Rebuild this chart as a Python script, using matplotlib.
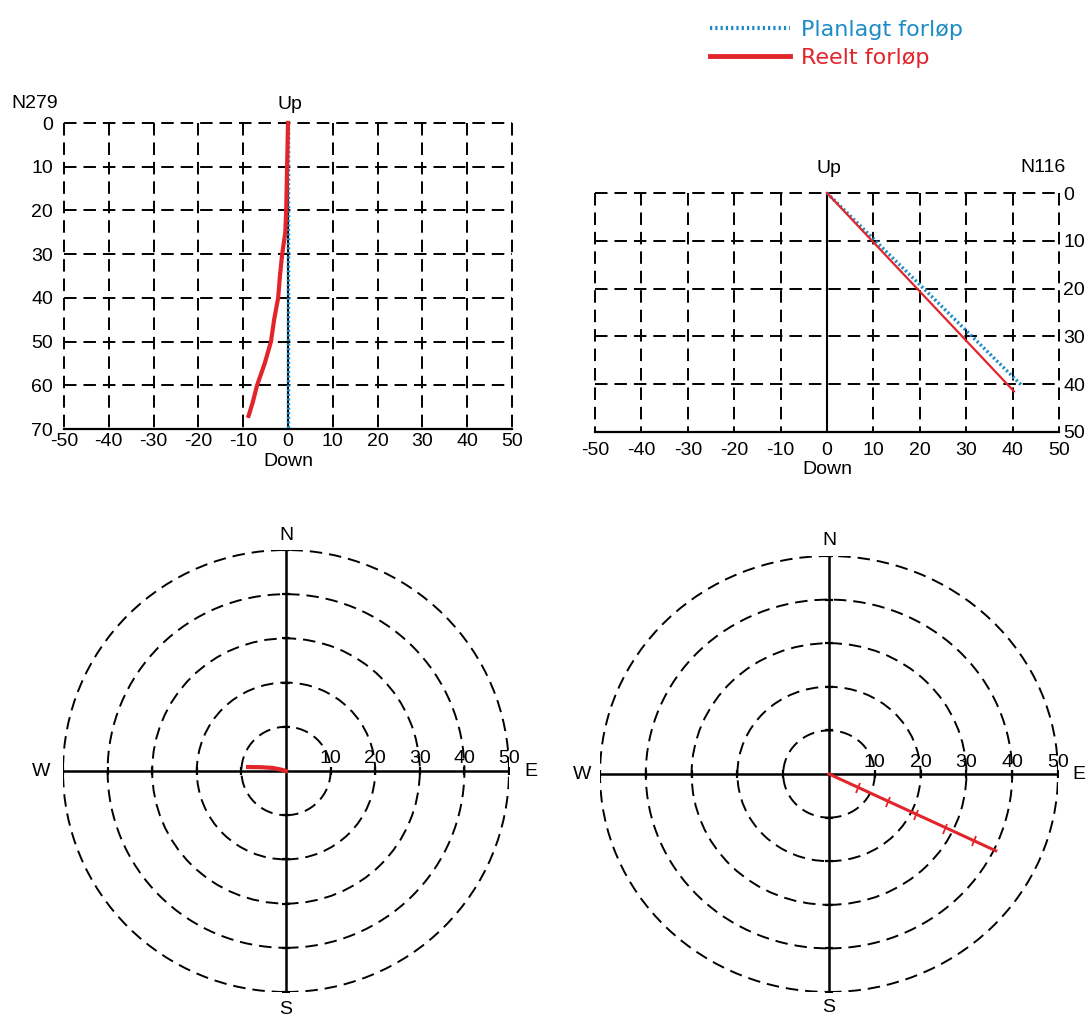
import numpy as np
import matplotlib
matplotlib.use("Agg")
import matplotlib.pyplot as plt
from matplotlib.patches import Circle
from matplotlib.lines import Line2D
from matplotlib.markers import MarkerStyle
from matplotlib.transforms import Affine2D, ScaledTranslation

plt.rcParams['font.family'] = ['Liberation Sans', 'DejaVu Sans']
plt.rcParams['axes.unicode_minus'] = False
plt.rcParams['lines.scale_dashes'] = False

BLUE = "#1b8cc6"
RED = "#e2242b"
DASH = (0, (9, 5))
FS = 14

# --- data ---------------------------------------------------------------
x_ticks = [-50, -40, -30, -20, -10, 0, 10, 20, 30, 40, 50]

# seksjon N279 (venstre)
left_depth_ticks = [0, 10, 20, 30, 40, 50, 60, 70]
plan_left_x = [0, 0]
plan_left_depth = [0, 70]
reelt_left_x = [0, -0.1, -0.2, -0.3, -0.4, -0.6, -1.3, -1.8, -2.2, -3.1, -3.8, -5.2, -6.9, -7.9, -8.8]
reelt_left_depth = [0, 5, 10, 15, 20, 25, 30, 35, 40, 45, 50, 55, 60, 64, 67]

# seksjon N116 (hoyre)
right_depth_ticks = [0, 10, 20, 30, 40, 50]
plan_right_x = [0, 42]
plan_right_depth = [0, 40.3]
reelt_right_x = [0, 40.3]
reelt_right_depth = [0, 41.5]

# planriss
rings = [10, 20, 30, 40, 50]
reelt_pl1_E = [0, -1, -3, -5.5, -8.5]
reelt_pl1_N = [0, 0.3, 0.7, 0.85, 0.9]
reelt_pl2_E = [0, 36.4]
reelt_pl2_N = [0, -17.6]
stasjon_pl2_E = [6.3, 12.8, 19.0, 25.3, 31.6]
stasjon_pl2_N = [-3.2, -6.4, -9.4, -12.5, -15.3]

W, H = 1092, 1021
fig = plt.figure(figsize=(W / 100, H / 100), dpi=100)


def px_axes(x0, y0, x1, y1):
    # pixel box -> figure axes
    return fig.add_axes([x0 / W, 1 - y1 / H, (x1 - x0) / W, (y1 - y0) / H])


def section(ax, depth_ticks, up_off, right=False):
    dmax = depth_ticks[-1]
    ax.set_xlim(-50, 50)
    ax.set_ylim(dmax, 0)
    for s in ax.spines.values():
        s.set_visible(False)
    for x in x_ticks:
        if x == 0:
            continue
        ax.plot([x, x], [0, dmax], color="black", lw=1.4, ls=DASH, clip_on=False)
    for d in depth_ticks[:-1]:
        ax.plot([-50, 50], [d, d], color="black", lw=1.4, ls=DASH, clip_on=False)
    ax.plot([-50, 50], [dmax, dmax], color="black", lw=1.6, clip_on=False)
    ax.plot([0, 0], [0, dmax], color="black", lw=1.5, clip_on=False)
    ax.set_xticks(x_ticks)
    ax.set_yticks(depth_ticks)
    ax.tick_params(length=0, labelsize=FS)
    shift = ScaledTranslation(4 / 100, 0, fig.dpi_scale_trans)
    for lab in ax.get_xticklabels():
        lab.set_transform(lab.get_transform() + shift)
    if right:
        ax.yaxis.tick_right()
        ax.tick_params(axis="y", pad=3)
    else:
        ax.tick_params(axis="y", pad=8)
    ax.text(0.5, -up_off, "Up", ha="center", va="bottom", fontsize=FS)


# seksjon venstre
ax1 = px_axes(64, 123, 512, 429)
section(ax1, left_depth_ticks, 2.4)
ax1.tick_params(axis="x", pad=3)
ax1.plot(plan_left_x, plan_left_depth, color=BLUE, lw=2.5, dashes=(1.5, 1.8), clip_on=False)
ax1.plot(reelt_left_x, reelt_left_depth, color=RED, lw=3, clip_on=False)
ax1.set_xlabel("Down", fontsize=FS, labelpad=2)
fig.text(11 / W, 1 - 104 / H, "N279", fontsize=FS, va="center")

# seksjon hoyre
ax2 = px_axes(595, 193, 1059, 432)
section(ax2, right_depth_ticks, 3.3, right=True)
ax2.tick_params(axis="x", pad=7)
ax2.plot(plan_right_x, plan_right_depth, color=BLUE, lw=2.5, dashes=(1.5, 1.8), clip_on=False)
ax2.plot(reelt_right_x, reelt_right_depth, color=RED, lw=1.6, clip_on=False)
ax2.set_xlabel("Down", fontsize=FS, labelpad=2)
fig.text(1066 / W, 1 - 167 / H, "N116", fontsize=FS, va="center", ha="right")


def planview(ax, lab):
    ax.set_xlim(-50, 50)
    ax.set_ylim(-50, 50)
    ax.axis("off")
    for r in rings:
        ax.add_patch(Circle((0, 0), r, fill=False, ec="black", lw=1.4, ls=DASH))
        ax.text(r, 0.8, str(r), ha="center", va="bottom", fontsize=FS)
    ax.plot([-50, 50], [0, 0], color="black", lw=1.8)
    ax.plot([0, 0], [-50, 50], color="black", lw=1.8)
    ring_pos = rings + [-r for r in rings]
    ax.plot(ring_pos, [0] * len(ring_pos), ls="none", marker="|", ms=6, mew=1.6, color="black")
    ax.plot([0] * len(ring_pos), ring_pos, ls="none", marker="_", ms=6, mew=1.6, color="black")
    for txt, (x, y) in zip("NSWE", lab):
        ax.text(x, y, txt, ha="center", va="center", fontsize=FS, clip_on=False)


ax3 = px_axes(63, 550, 509, 992)
planview(ax3, [(0, 53.3), (0, -54), (-55, 0), (54.8, 0)])
ax3.plot(reelt_pl1_E, reelt_pl1_N, color=RED, lw=3)

ax4 = px_axes(600, 556, 1058, 992)
planview(ax4, [(0, 53.6), (0, -53.5), (-54, 0), (54.6, 0)])
ax4.plot(reelt_pl2_E, reelt_pl2_N, color=RED, lw=2.2)
ang = np.degrees(np.arctan2(reelt_pl2_N[1] * 436 / 100, reelt_pl2_E[1] * 458 / 100))
tick = MarkerStyle("|", transform=Affine2D().rotate_deg(ang))
ax4.plot(stasjon_pl2_E, stasjon_pl2_N, ls="none", marker=tick, ms=8, mew=1.3, color=RED)

# tegnforklaring
handles = [Line2D([], [], color=BLUE, lw=3, dashes=(1.6, 2.2)),
           Line2D([], [], color=RED, lw=3.5)]
fig.legend(handles, ["Planlagt forløp", "Reelt forløp"], loc="upper left",
           bbox_to_anchor=(690 / W, 1 - 0 / H), frameon=False,
           prop={"family": "DejaVu Sans", "size": 16},
           handlelength=3.6, handletextpad=0.5, labelspacing=0.35,
           labelcolor=[BLUE, RED])

fig.savefig("out.png", dpi=100)
